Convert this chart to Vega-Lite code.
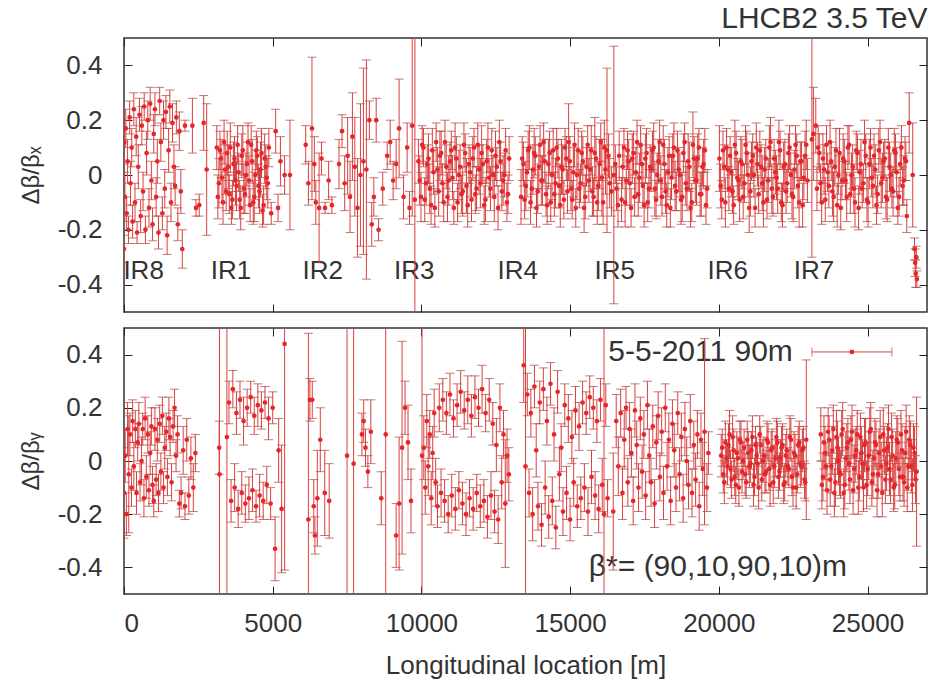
{
"$schema": "https://vega.github.io/schema/vega-lite/v6.json",
"background": "white",
"padding": {"left": 18, "top": 2, "right": 4, "bottom": 4},
"spacing": 12,
"config": {
  "view": {"stroke": "#333", "strokeWidth": 1.5},
  "font": "Liberation Sans",
  "axis": {"labelFont": "Liberation Sans", "titleFont": "Liberation Sans", "grid": false, "domain": false, "tickColor": "#222", "tickWidth": 1, "tickSize": -8, "labelFontSize": 26, "labelColor": "#333", "titleFontSize": 26, "titleFontWeight": "normal", "titleColor": "#333", "minExtent": 0}
},
"vconcat": [
{
  "width": 803, "height": 274,
  "title": {"text": "LHCB2 3.5 TeV", "anchor": "end", "fontSize": 30, "font": "Liberation Sans", "fontWeight": "normal", "color": "#333", "offset": 4},
  "data": {"values": "s,v,e\n0,-0.27,0.05\n10,0.12,0.08\n30,-0.08,0.09\n60,0.17,0.07\n90,-0.14,0.06\n120,0.05,0.08\n150,-0.20,0.05\n190,0.21,0.06\n220,-0.03,0.08\n260,0.10,0.07\n290,-0.17,0.06\n330,0.24,0.06\n370,-0.10,0.07\n410,0.14,0.07\n440,-0.21,0.04\n480,0.03,0.08\n520,0.22,0.06\n560,-0.15,0.06\n600,0.18,0.07\n640,-0.06,0.07\n680,0.25,0.05\n720,-0.20,0.05\n760,0.08,0.08\n800,0.20,0.07\n840,-0.12,0.07\n880,0.26,0.06\n920,-0.02,0.07\n960,-0.18,0.06\n1000,0.15,0.07\n1040,0.24,0.06\n1080,-0.08,0.07\n1120,0.05,0.08\n1160,-0.21,0.06\n1200,0.27,0.05\n1240,0.12,0.07\n1290,-0.14,0.06\n1330,0.20,0.07\n1370,-0.05,0.07\n1410,0.23,0.06\n1450,-0.22,0.07\n1500,0.09,0.08\n1540,0.25,0.06\n1580,-0.10,0.07\n1630,0.19,0.07\n1680,0.03,0.08\n1720,-0.04,0.07\n1760,0.21,0.06\n1810,-0.18,0.06\n1860,0.16,0.07\n1910,-0.06,0.08\n1960,-0.27,0.07\n2050,0.18,0.02\n2300,0.18,0.10\n2420,-0.12,0.03\n2530,-0.11,0.04\n2680,0.19,0.10\n2780,0.02,0.24\n3120,0.10,0.08\n3190,-0.03,0.09\n3260,0.06,0.07\n3330,-0.10,0.08\n3400,0.02,0.09\n3470,0.08,0.08\n3540,-0.07,0.07\n3610,-0.12,0.06\n3680,0.04,0.08\n3750,-0.02,0.09\n3820,0.11,0.07\n3890,-0.09,0.07\n3960,0.07,0.08\n4030,-0.05,0.09\n4100,0.00,0.08\n4170,0.12,0.07\n4240,-0.11,0.06\n4310,0.05,0.08\n4380,-0.08,0.09\n4450,0.09,0.07\n4520,-0.04,0.08\n4590,0.02,0.10\n4660,-0.13,0.06\n4730,0.06,0.09\n4800,-0.01,0.08\n4870,0.10,0.07\n4950,-0.14,0.04\n5100,0.16,0.08\n5180,-0.12,0.05\n5260,0.05,0.09\n5400,0.00,0.07\n5580,0.00,0.20\n6110,0.11,0.07\n6200,-0.03,0.08\n6320,0.17,0.26\n6400,0.04,0.10\n6450,-0.10,0.08\n6560,-0.12,0.20\n6640,0.06,0.06\n6760,-0.12,0.02\n6880,-0.02,0.07\n6990,-0.11,0.03\n7230,0.04,0.09\n7330,0.16,0.06\n7420,-0.03,0.10\n7520,0.07,0.14\n7600,-0.08,0.13\n7680,0.14,0.16\n7760,0.03,0.18\n7850,-0.12,0.18\n7950,0.00,0.26\n8050,0.05,0.34\n8150,0.02,0.40\n8250,0.20,0.07\n8330,-0.18,0.08\n8400,-0.08,0.07\n8480,0.20,0.08\n8560,-0.20,0.04\n8700,-0.05,0.06\n8850,0.07,0.05\n8950,0.12,0.08\n9050,-0.02,0.07\n9150,0.04,0.09\n9250,0.17,0.18\n9400,-0.08,0.08\n9520,0.10,0.09\n9600,-0.12,0.06\n9690,0.18,0.33\n9780,-0.09,0.80\n9900,0.05,0.08\n9985,-0.08,0.09\n10070,0.10,0.07\n10155,-0.03,0.08\n10240,0.06,0.09\n10325,-0.11,0.07\n10410,0.01,0.08\n10495,0.12,0.07\n10580,-0.06,0.09\n10665,0.08,0.08\n10750,-0.10,0.07\n10835,0.03,0.08\n10920,-0.02,0.09\n11005,0.09,0.07\n11090,-0.12,0.06\n11175,0.06,0.08\n11260,0.00,0.09\n11345,-0.07,0.07\n11430,0.11,0.08\n11515,-0.04,0.10\n11600,0.04,0.07\n11685,-0.09,0.08\n11770,0.10,0.07\n11855,-0.05,0.08\n11940,0.02,0.09\n12025,0.08,0.10\n12110,-0.11,0.07\n12195,0.05,0.08\n12280,-0.01,0.07\n12365,0.09,0.08\n12450,-0.08,0.09\n12535,0.03,0.07\n12620,0.12,0.08\n12705,-0.06,0.07\n12790,0.00,0.08\n12875,-0.10,0.07\n12950,0.06,0.08\n13350,-0.08,0.10\n13430,0.04,0.08\n13510,-0.04,0.09\n13590,0.09,0.07\n13670,-0.10,0.08\n13750,0.02,0.09\n13830,0.07,0.07\n13910,-0.06,0.08\n13990,0.11,0.07\n14070,-0.02,0.09\n14150,0.05,0.08\n14230,-0.11,0.07\n14310,0.08,0.08\n14390,0.00,0.09\n14470,-0.07,0.08\n14550,0.10,0.07\n14630,-0.04,0.08\n14710,0.03,0.10\n14790,-0.09,0.07\n14870,0.06,0.08\n14950,0.12,0.14\n15030,-0.05,0.08\n15110,0.01,0.09\n15190,-0.12,0.07\n15270,0.09,0.08\n15350,-0.03,0.07\n15430,0.05,0.09\n15510,-0.08,0.08\n15590,0.11,0.07\n15670,0.02,0.08\n15750,-0.06,0.09\n15830,0.08,0.13\n15910,-0.10,0.08\n15990,0.04,0.09\n16070,-0.01,0.14\n16150,0.10,0.10\n16240,0.09,0.30\n16330,-0.03,0.09\n16470,0.00,0.47\n16560,-0.05,0.08\n16650,0.07,0.09\n16730,-0.09,0.08\n16810,0.10,0.07\n16890,-0.02,0.09\n16970,0.05,0.08\n17050,-0.12,0.07\n17130,0.08,0.08\n17210,0.01,0.09\n17290,-0.07,0.08\n17370,0.11,0.07\n17450,-0.04,0.08\n17530,0.06,0.09\n17610,-0.10,0.07\n17690,0.03,0.08\n17770,0.09,0.07\n17850,-0.05,0.10\n17930,0.00,0.08\n18010,0.12,0.08\n18090,-0.08,0.07\n18170,0.04,0.09\n18250,-0.11,0.08\n18330,0.07,0.07\n18410,-0.01,0.08\n18490,0.10,0.09\n18570,-0.06,0.07\n18650,0.02,0.08\n18730,-0.09,0.09\n18810,0.08,0.07\n18890,-0.03,0.08\n18970,0.05,0.10\n19050,-0.12,0.07\n19130,0.11,0.12\n19210,-0.02,0.08\n19290,0.06,0.09\n19370,-0.07,0.08\n19450,0.03,0.07\n19530,0.09,0.08\n19610,-0.05,0.07\n20020,0.06,0.12\n20100,-0.09,0.07\n20180,0.03,0.08\n20260,0.10,0.07\n20340,-0.05,0.08\n20420,0.01,0.09\n20500,-0.11,0.07\n20580,0.08,0.08\n20660,-0.02,0.07\n20740,0.05,0.09\n20820,-0.08,0.08\n20900,0.11,0.07\n20980,0.00,0.08\n21060,-0.06,0.09\n21140,0.07,0.08\n21220,-0.12,0.07\n21300,0.04,0.08\n21380,0.09,0.07\n21460,-0.03,0.10\n21540,0.02,0.08\n21620,-0.09,0.07\n21700,0.10,0.08\n21780,-0.05,0.09\n21860,0.06,0.07\n21940,-0.01,0.08\n22020,0.12,0.08\n22100,-0.10,0.07\n22180,0.03,0.09\n22260,-0.06,0.08\n22340,0.08,0.07\n22420,0.00,0.08\n22500,-0.08,0.09\n22580,0.11,0.07\n22660,-0.04,0.08\n22740,0.05,0.07\n22820,-0.11,0.08\n22900,0.07,0.09\n22980,-0.02,0.08\n23130,0.13,0.43\n23180,0.15,0.17\n23260,0.18,0.10\n23300,-0.05,0.08\n23380,0.08,0.07\n23460,-0.10,0.08\n23540,0.02,0.09\n23620,0.11,0.07\n23700,-0.04,0.08\n23780,0.05,0.07\n23860,-0.08,0.09\n23940,0.09,0.08\n24020,0.00,0.07\n24100,-0.12,0.08\n24180,0.06,0.09\n24260,-0.02,0.07\n24340,0.10,0.08\n24420,-0.07,0.07\n24500,0.03,0.08\n24580,-0.10,0.09\n24660,0.08,0.07\n24740,0.01,0.08\n24820,-0.05,0.07\n24900,0.12,0.08\n24980,-0.09,0.08\n25060,0.04,0.09\n25140,-0.01,0.07\n25220,0.07,0.08\n25300,-0.11,0.07\n25380,0.09,0.08\n25460,-0.03,0.09\n25540,0.05,0.07\n25620,-0.08,0.08\n25700,0.10,0.07\n25780,0.00,0.08\n25860,-0.06,0.09\n25940,0.08,0.07\n26020,-0.12,0.06\n26100,0.04,0.08\n26180,-0.04,0.07\n26260,0.06,0.08\n26320,-0.15,0.06\n26400,0.19,0.11\n26520,0.00,0.19\n26580,-0.27,0.04\n26600,-0.32,0.05\n26620,-0.36,0.05\n26640,-0.30,0.04\n26660,-0.38,0.03\n3155,-0.08,0.08\n3225,0.09,0.07\n3295,-0.01,0.09\n3365,0.12,0.08\n3435,-0.06,0.07\n3505,0.03,0.08\n3575,0.10,0.09\n3645,-0.09,0.07\n3715,0.06,0.08\n3785,-0.04,0.09\n3855,0.01,0.07\n3925,-0.12,0.08\n3995,0.09,0.09\n4065,-0.07,0.07\n4135,0.04,0.08\n4205,-0.02,0.09\n4275,0.11,0.07\n4345,-0.10,0.08\n4415,0.00,0.09\n4485,0.07,0.07\n4555,-0.06,0.08\n4625,0.08,0.09\n4695,-0.11,0.07\n4765,0.03,0.08\n4835,-0.03,0.09\n9942,-0.02,0.09\n10027,0.11,0.07\n10112,-0.09,0.08\n10197,0.04,0.07\n10282,-0.05,0.09\n10367,0.09,0.08\n10452,-0.12,0.07\n10537,0.02,0.08\n10622,0.07,0.09\n10707,-0.03,0.07\n10792,0.12,0.08\n10877,-0.08,0.09\n10962,0.05,0.07\n11047,-0.01,0.08\n11132,0.10,0.09\n11217,-0.10,0.07\n11302,0.03,0.08\n11387,-0.06,0.09\n11472,0.08,0.07\n11557,-0.11,0.08\n11642,0.01,0.09\n11727,0.06,0.08\n11812,-0.07,0.07\n11897,0.11,0.08\n11982,-0.03,0.09\n12067,0.04,0.07\n12152,-0.09,0.08\n12237,0.10,0.09\n12322,-0.05,0.08\n12407,0.00,0.07\n12492,0.07,0.09\n12577,-0.12,0.08\n12662,0.05,0.07\n12747,-0.02,0.09\n12832,0.09,0.08\n12910,-0.07,0.07\n13390,0.06,0.08\n13470,-0.09,0.07\n13550,0.01,0.09\n13630,0.10,0.08\n13710,-0.05,0.07\n13790,0.08,0.09\n13870,-0.12,0.07\n13950,0.03,0.08\n14030,-0.02,0.09\n14110,0.12,0.07\n14190,-0.07,0.08\n14270,0.04,0.09\n14350,-0.10,0.07\n14430,0.09,0.08\n14510,-0.03,0.09\n14590,0.06,0.07\n14670,-0.11,0.08\n14750,0.02,0.09\n14830,0.10,0.07\n14910,-0.06,0.08\n14990,0.05,0.09\n15070,-0.09,0.07\n15150,0.11,0.08\n15230,0.00,0.09\n15310,-0.05,0.07\n15390,0.08,0.08\n15470,-0.12,0.09\n15550,0.03,0.07\n15630,-0.02,0.08\n15710,0.09,0.09\n15790,-0.08,0.07\n15870,0.06,0.08\n15950,-0.04,0.09\n16030,0.12,0.07\n16110,-0.10,0.08\n16190,0.02,0.09\n16290,0.07,0.08\n16390,-0.06,0.09\n16520,0.04,0.07\n16610,-0.11,0.08\n16770,0.03,0.08\n16850,-0.10,0.09\n16930,0.09,0.07\n17010,-0.03,0.08\n17090,0.06,0.09\n17170,-0.08,0.07\n17250,0.12,0.08\n17330,-0.01,0.09\n17410,0.04,0.07\n17490,-0.11,0.08\n17570,0.08,0.09\n17650,-0.05,0.07\n17730,0.02,0.08\n17810,0.10,0.09\n17890,-0.09,0.07\n17970,0.05,0.08\n18050,-0.02,0.09\n18130,0.11,0.07\n18210,-0.06,0.08\n18290,0.01,0.09\n18370,-0.12,0.07\n18450,0.07,0.08\n18530,-0.04,0.09\n18610,0.09,0.07\n18690,0.00,0.08\n18770,-0.08,0.09\n18850,0.12,0.07\n18930,-0.05,0.08\n19010,0.03,0.09\n19090,-0.10,0.07\n19170,0.06,0.08\n19250,-0.02,0.09\n19330,0.10,0.07\n19410,-0.07,0.08\n19490,0.04,0.09\n19570,-0.11,0.07\n20060,-0.04,0.08\n20140,0.09,0.07\n20220,-0.10,0.09\n20300,0.02,0.08\n20380,0.07,0.07\n20460,-0.06,0.08\n20540,0.11,0.09\n20620,-0.01,0.07\n20700,-0.09,0.08\n20780,0.04,0.09\n20860,-0.03,0.07\n20940,0.08,0.08\n21020,-0.12,0.09\n21100,0.05,0.07\n21180,0.00,0.08\n21260,0.10,0.09\n21340,-0.07,0.07\n21420,0.03,0.08\n21500,-0.10,0.09\n21580,0.06,0.07\n21660,-0.02,0.08\n21740,0.12,0.09\n21820,-0.08,0.07\n21900,0.01,0.08\n21980,-0.05,0.09\n22060,0.09,0.07\n22140,-0.11,0.08\n22220,0.04,0.09\n22300,-0.03,0.07\n22380,0.10,0.08\n22460,-0.07,0.09\n22540,0.02,0.07\n22620,0.07,0.08\n22700,-0.10,0.09\n22780,0.05,0.07\n22860,-0.01,0.08\n22940,0.11,0.09\n23340,0.10,0.08\n23420,-0.03,0.07\n23500,0.06,0.09\n23580,-0.09,0.08\n23660,0.01,0.07\n23740,0.12,0.08\n23820,-0.06,0.09\n23900,0.03,0.07\n23980,-0.11,0.08\n24060,0.08,0.09\n24140,-0.02,0.07\n24220,0.05,0.08\n24300,-0.08,0.09\n24380,0.11,0.07\n24460,0.00,0.08\n24540,-0.05,0.09\n24620,0.09,0.07\n24700,-0.12,0.08\n24780,0.04,0.09\n24860,-0.03,0.07\n24940,0.07,0.08\n25020,-0.10,0.09\n25100,0.10,0.07\n25180,-0.04,0.08\n25260,0.02,0.09\n25340,-0.07,0.07\n25420,0.12,0.08\n25500,-0.01,0.09\n25580,0.06,0.07\n25660,-0.09,0.08\n25740,0.03,0.09\n25820,-0.05,0.07\n25900,0.09,0.08\n25980,0.01,0.09\n26060,-0.08,0.07\n26140,0.10,0.08\n26220,-0.02,0.09\n26290,0.05,0.07", "format": {"type": "csv", "parse": {"s": "number", "v": "number", "e": "number"}}},
  "layer": [
    {
      "data": {"values": [{"label": "IR8", "s": 660}, {"label": "IR1", "s": 3600}, {"label": "IR2", "s": 6680}, {"label": "IR3", "s": 9760}, {"label": "IR4", "s": 13240}, {"label": "IR5", "s": 16500}, {"label": "IR6", "s": 20300}, {"label": "IR7", "s": 23200}]},
      "mark": {"type": "text", "fontSize": 26, "color": "#333", "align": "center", "baseline": "middle"},
      "encoding": {
        "x": {"field": "s", "type": "quantitative", "scale": {"domain": [0, 27000], "nice": false, "zero": false}, "axis": null},
        "y": {"datum": -0.35, "scale": {"domain": [-0.5, 0.5], "nice": false, "zero": false}, "axis": null},
        "text": {"field": "label"}
      }
    },
    {
      "mark": {"type": "errorbar", "clip": true, "ticks": {"color": "#a8403c"}, "rule": {"color": "#d8403f"}, "size": 9, "thickness": 1},
      "encoding": {
        "x": {"field": "s", "type": "quantitative", "scale": {"domain": [0, 27000], "nice": false, "zero": false}, "axis": {"orient": "bottom", "values": [0, 5000, 10000, 15000, 20000, 25000], "labels": false, "title": null}},
        "y": {"field": "v", "type": "quantitative", "scale": {"domain": [-0.5, 0.5], "nice": false, "zero": false}, "axis": {"orient": "left", "values": [-0.4, -0.2, 0, 0.2, 0.4], "labelExpr": "datum.value == 0 ? '0' : (datum.value < 0 ? '-' : '') + format(abs(datum.value), '.1f')", "labelPadding": 30, "title": "Δβ/βₓ", "titleFontSize": 24, "titlePadding": 14}},
        "yError": {"field": "e"}
      }
    },
    {
      "mark": {"type": "circle", "size": 22, "color": "#e5262a", "opacity": 1, "clip": true},
      "encoding": {
        "x": {"field": "s", "type": "quantitative", "scale": {"domain": [0, 27000], "nice": false, "zero": false}, "axis": {"orient": "top", "values": [0, 5000, 10000, 15000, 20000, 25000], "labels": false, "title": null}},
        "y": {"field": "v", "type": "quantitative", "scale": {"domain": [-0.5, 0.5], "nice": false, "zero": false}, "axis": {"orient": "right", "values": [-0.4, -0.2, 0, 0.2, 0.4], "labels": false, "title": null}}
      }
    }
  ],
  "resolve": {"axis": {"x": "independent", "y": "independent"}}
},
{
  "width": 803, "height": 266,
  "data": {"values": "s,v,e\n0,-0.12,0.17\n40,0.02,0.10\n80,-0.20,0.08\n120,0.12,0.10\n160,-0.05,0.22\n200,0.10,0.08\n250,-0.10,0.07\n290,0.15,0.08\n330,-0.02,0.09\n380,0.12,0.07\n420,-0.12,0.08\n460,0.07,0.07\n500,0.14,0.08\n540,-0.08,0.07\n590,0.00,0.09\n630,0.12,0.06\n670,-0.14,0.07\n710,0.16,0.08\n750,-0.06,0.08\n800,0.10,0.07\n840,-0.11,0.06\n880,0.03,0.08\n920,0.13,0.07\n960,-0.09,0.07\n1000,-0.15,0.06\n1040,0.12,0.08\n1080,-0.07,0.06\n1120,0.08,0.08\n1160,-0.12,0.07\n1200,0.14,0.07\n1240,-0.04,0.07\n1290,0.17,0.07\n1330,-0.10,0.06\n1370,0.05,0.08\n1420,0.11,0.07\n1460,-0.06,0.07\n1510,0.16,0.08\n1550,0.09,0.07\n1600,-0.08,0.07\n1650,0.13,0.06\n1700,0.20,0.07\n1750,0.02,0.06\n1800,0.10,0.07\n1860,-0.16,0.05\n1920,-0.12,0.06\n1990,0.04,0.09\n2050,-0.17,0.05\n2110,0.08,0.08\n2180,-0.13,0.07\n2250,0.01,0.08\n2330,-0.10,0.09\n2400,0.03,0.07\n3200,0.05,0.10\n3210,-0.05,0.55\n3460,0.09,0.60\n3530,0.22,0.08\n3600,-0.15,0.08\n3660,0.27,0.07\n3720,-0.10,0.09\n3780,0.18,0.08\n3840,-0.18,0.07\n3900,0.23,0.07\n3960,-0.12,0.08\n4020,0.15,0.09\n4080,-0.16,0.07\n4140,0.20,0.07\n4200,-0.14,0.08\n4260,0.24,0.06\n4320,-0.11,0.08\n4380,0.17,0.07\n4440,-0.17,0.06\n4500,0.21,0.08\n4560,-0.13,0.08\n4620,0.19,0.07\n4680,-0.15,0.07\n4740,0.22,0.06\n4800,-0.09,0.07\n4860,0.16,0.08\n4930,-0.16,0.06\n5000,0.20,0.06\n5080,-0.33,0.12\n5200,0.04,0.12\n5300,-0.18,0.24\n5400,0.44,0.85\n6200,-0.22,0.70\n6250,0.23,0.08\n6330,0.23,0.07\n6380,-0.17,0.10\n6420,-0.28,0.07\n6500,-0.14,0.18\n6600,0.08,0.12\n6750,-0.12,0.16\n6900,-0.15,0.14\n7500,0.02,0.70\n7720,-0.01,0.70\n8000,0.10,0.08\n8060,0.15,0.08\n8120,0.05,0.07\n8200,-0.04,0.06\n8300,0.11,0.12\n8650,-0.14,0.10\n8800,0.10,0.65\n9150,-0.28,0.12\n9250,-0.16,0.25\n9350,0.05,0.40\n9450,0.20,0.10\n9550,0.07,0.14\n9650,-0.15,0.12\n10020,0.02,0.70\n10080,0.05,0.12\n10130,-0.10,0.10\n10180,0.15,0.10\n10230,-0.02,0.11\n10280,0.10,0.09\n10330,-0.14,0.10\n10380,0.03,0.10\n10430,0.18,0.09\n10480,-0.08,0.09\n10540,-0.17,0.08\n10600,0.20,0.09\n10660,-0.12,0.09\n10720,0.23,0.08\n10780,-0.15,0.08\n10840,0.18,0.08\n10900,-0.20,0.07\n10960,0.25,0.08\n11020,-0.13,0.08\n11080,0.16,0.07\n11140,-0.18,0.08\n11200,0.21,0.08\n11260,-0.11,0.07\n11320,0.26,0.08\n11380,-0.16,0.08\n11440,0.19,0.07\n11500,-0.20,0.08\n11560,0.23,0.09\n11620,-0.14,0.07\n11680,0.17,0.08\n11740,-0.18,0.08\n11800,0.24,0.08\n11860,-0.12,0.07\n11920,0.20,0.07\n11980,-0.17,0.08\n12040,0.27,0.09\n12100,-0.15,0.08\n12160,0.18,0.07\n12220,-0.21,0.08\n12280,0.23,0.08\n12340,-0.13,0.09\n12400,0.14,0.08\n12460,-0.19,0.08\n12520,0.06,0.10\n12580,-0.22,0.09\n12640,0.20,0.09\n12700,-0.08,0.10\n12760,0.10,0.09\n12820,-0.16,0.24\n12880,0.02,0.10\n12940,-0.05,0.10\n13440,0.36,0.14\n13500,-0.02,0.60\n13560,0.25,0.08\n13620,-0.12,0.09\n13680,0.18,0.09\n13740,-0.20,0.10\n13800,0.28,0.08\n13860,0.04,0.10\n13920,-0.17,0.09\n13980,0.22,0.08\n14040,-0.24,0.08\n14100,0.27,0.08\n14160,-0.10,0.10\n14220,0.15,0.09\n14280,-0.21,0.08\n14340,0.29,0.08\n14400,-0.15,0.09\n14460,0.10,0.10\n14520,-0.25,0.08\n14580,0.26,0.08\n14640,-0.05,0.10\n14700,0.05,0.09\n14760,-0.19,0.09\n14820,0.21,0.08\n14880,-0.12,0.10\n14940,0.16,0.09\n15000,-0.22,0.08\n15060,0.09,0.10\n15120,-0.08,0.09\n15180,0.19,0.09\n15240,-0.17,0.08\n15300,0.13,0.09\n15360,-0.14,0.08\n15420,0.22,0.08\n15480,-0.10,0.09\n15540,0.18,0.08\n15600,-0.19,0.09\n15660,0.24,0.08\n15720,-0.06,0.10\n15780,0.20,0.08\n15840,-0.13,0.09\n15900,0.15,0.08\n15960,-0.18,0.09\n16020,0.23,0.08\n16080,-0.09,0.10\n16140,-0.20,0.70\n16200,0.21,0.08\n16260,-0.14,0.07\n16450,-0.19,0.22\n16550,0.15,0.10\n16620,-0.02,0.11\n16700,0.18,0.09\n16760,-0.12,0.10\n16820,0.08,0.11\n16880,0.20,0.08\n16940,-0.08,0.09\n17000,0.12,0.10\n17060,0.03,0.09\n17120,-0.15,0.09\n17180,0.19,0.10\n17240,0.06,0.09\n17300,-0.10,0.09\n17360,0.16,0.08\n17420,-0.04,0.10\n17480,0.10,0.09\n17540,-0.13,0.09\n17600,0.21,0.09\n17660,0.02,0.10\n17720,-0.08,0.09\n17780,0.13,0.08\n17840,-0.16,0.09\n17900,0.07,0.10\n17960,0.17,0.09\n18020,-0.06,0.09\n18080,0.11,0.09\n18140,-0.12,0.10\n18200,0.20,0.09\n18260,-0.02,0.09\n18320,0.08,0.10\n18380,-0.15,0.09\n18440,0.14,0.09\n18500,0.04,0.10\n18560,-0.10,0.09\n18620,0.18,0.08\n18680,-0.05,0.10\n18740,0.09,0.09\n18800,-0.14,0.09\n18860,0.12,0.10\n18920,0.00,0.09\n18980,-0.09,0.09\n19040,0.15,0.10\n19100,-0.12,0.09\n19160,0.06,0.09\n19220,-0.07,0.10\n19280,0.10,0.09\n19340,-0.17,0.09\n19400,0.08,0.10\n19460,-0.03,0.10\n19520,0.11,0.35\n19600,-0.10,0.09\n19650,0.03,0.08\n20080,0.02,0.08\n20150,-0.05,0.07\n20220,0.07,0.08\n20290,-0.02,0.07\n20360,0.10,0.09\n20430,-0.07,0.07\n20500,0.04,0.08\n20570,-0.09,0.07\n20640,0.01,0.08\n20710,0.08,0.07\n20780,-0.04,0.08\n20850,0.05,0.07\n20920,-0.08,0.06\n20990,0.03,0.08\n21060,-0.01,0.07\n21130,0.09,0.08\n21200,-0.06,0.07\n21270,0.02,0.07\n21340,-0.10,0.08\n21410,0.06,0.07\n21480,0.00,0.08\n21550,-0.05,0.07\n21620,0.08,0.07\n21690,-0.03,0.08\n21760,0.04,0.07\n21830,-0.08,0.08\n21900,0.01,0.07\n21970,0.07,0.08\n22040,-0.04,0.07\n22110,0.05,0.08\n22180,-0.09,0.07\n22250,0.02,0.08\n22320,-0.02,0.07\n22390,0.09,0.08\n22460,-0.06,0.07\n22530,0.03,0.08\n22600,-0.10,0.08\n22670,0.06,0.07\n22740,-0.01,0.09\n22810,0.04,0.08\n22880,-0.07,0.07\n22940,0.08,0.30\n23430,0.10,0.10\n23500,-0.06,0.09\n23570,0.03,0.10\n23640,-0.11,0.09\n23710,0.08,0.09\n23780,-0.02,0.10\n23850,0.12,0.09\n23920,-0.08,0.09\n23990,0.05,0.10\n24060,-0.04,0.09\n24130,0.10,0.09\n24200,-0.12,0.09\n24270,0.01,0.10\n24340,0.07,0.09\n24410,-0.07,0.09\n24480,0.11,0.10\n24550,-0.03,0.09\n24620,0.04,0.09\n24690,-0.10,0.10\n24760,0.09,0.09\n24830,-0.01,0.09\n24900,0.06,0.10\n24970,-0.09,0.09\n25040,0.02,0.09\n25110,0.12,0.10\n25180,-0.05,0.09\n25250,0.07,0.09\n25320,-0.11,0.10\n25390,0.03,0.09\n25460,-0.02,0.09\n25530,0.10,0.10\n25600,-0.07,0.09\n25670,0.05,0.09\n25740,-0.03,0.10\n25810,0.09,0.09\n25880,-0.10,0.09\n25950,0.01,0.10\n26020,0.07,0.09\n26090,-0.06,0.09\n26160,0.04,0.10\n26230,-0.08,0.09\n26300,0.11,0.10\n26370,-0.02,0.09\n26440,0.06,0.09\n26510,-0.09,0.10\n26580,0.03,0.10\n26650,-0.04,0.28\n20115,0.05,0.07\n20185,-0.08,0.08\n20255,0.01,0.07\n20325,0.06,0.08\n20395,-0.03,0.07\n20465,0.09,0.08\n20535,-0.06,0.07\n20605,0.03,0.08\n20675,-0.10,0.07\n20745,0.07,0.08\n20815,0.00,0.07\n20885,-0.05,0.08\n20955,0.08,0.07\n21025,-0.02,0.08\n21095,0.04,0.07\n21165,-0.09,0.08\n21235,0.06,0.07\n21305,-0.01,0.08\n21375,0.10,0.07\n21445,-0.07,0.08\n21515,0.02,0.07\n21585,-0.04,0.08\n21655,0.07,0.07\n21725,-0.09,0.08\n21795,0.05,0.07\n21865,-0.02,0.08\n21935,0.09,0.07\n22005,-0.06,0.08\n22075,0.01,0.07\n22145,0.06,0.08\n22215,-0.08,0.07\n22285,0.04,0.08\n22355,-0.03,0.07\n22425,0.08,0.08\n22495,-0.10,0.07\n22565,0.02,0.08\n22635,-0.05,0.07\n22705,0.07,0.08\n22775,-0.02,0.07\n22845,0.05,0.08\n22905,-0.08,0.07\n23465,-0.09,0.09\n23535,0.07,0.10\n23605,-0.02,0.09\n23675,0.11,0.09\n23745,-0.07,0.10\n23815,0.04,0.09\n23885,-0.12,0.09\n23955,0.09,0.10\n24025,0.00,0.09\n24095,-0.05,0.09\n24165,0.12,0.10\n24235,-0.09,0.09\n24305,0.05,0.09\n24375,-0.01,0.10\n24445,0.08,0.09\n24515,-0.11,0.09\n24585,0.02,0.10\n24655,0.10,0.09\n24725,-0.06,0.09\n24795,0.03,0.10\n24865,-0.10,0.09\n24935,0.07,0.09\n25005,-0.03,0.10\n25075,0.11,0.09\n25145,-0.08,0.09\n25215,0.01,0.10\n25285,0.06,0.09\n25355,-0.05,0.09\n25425,0.09,0.10\n25495,-0.12,0.09\n25565,0.04,0.09\n25635,-0.01,0.10\n25705,0.12,0.09\n25775,-0.07,0.09\n25845,0.02,0.10\n25915,-0.09,0.09\n25985,0.08,0.09\n26055,-0.03,0.10\n26125,0.10,0.09\n26195,-0.06,0.09\n26265,0.03,0.10\n26335,-0.10,0.09\n26405,0.08,0.09\n26475,-0.02,0.10\n26545,0.05,0.09\n26615,-0.07,0.09", "format": {"type": "csv", "parse": {"s": "number", "v": "number", "e": "number"}}},
  "layer": [
    {
      "data": {"values": [{"note": "legend"}]},
      "mark": {"type": "text", "fontSize": 30, "color": "#333", "align": "right", "baseline": "middle"},
      "encoding": {
        "x": {"datum": 22490, "scale": {"domain": [0, 27000], "nice": false, "zero": false}, "axis": null},
        "y": {"datum": 0.41, "scale": {"domain": [-0.5, 0.5], "nice": false, "zero": false}, "axis": null},
        "text": {"value": "5-5-2011 90m"}
      }
    },
    {
      "data": {"values": [{"note": "optics"}]},
      "mark": {"type": "text", "fontSize": 30, "color": "#333", "align": "left", "baseline": "middle"},
      "encoding": {
        "x": {"datum": 15630, "scale": {"domain": [0, 27000], "nice": false, "zero": false}, "axis": null},
        "y": {"datum": -0.40, "scale": {"domain": [-0.5, 0.5], "nice": false, "zero": false}, "axis": null},
        "text": {"value": "β*= (90,10,90,10)m"}
      }
    },
    {
      "mark": {"type": "errorbar", "clip": true, "ticks": {"color": "#a8403c"}, "rule": {"color": "#d8403f"}, "size": 9, "thickness": 1},
      "encoding": {
        "x": {"field": "s", "type": "quantitative", "scale": {"domain": [0, 27000], "nice": false, "zero": false}, "axis": {"orient": "bottom", "values": [0, 5000, 10000, 15000, 20000, 25000], "format": "d", "labelPadding": 24, "title": "Longitudinal location [m]", "titlePadding": 16}},
        "y": {"field": "v", "type": "quantitative", "scale": {"domain": [-0.5, 0.5], "nice": false, "zero": false}, "axis": {"orient": "left", "values": [-0.4, -0.2, 0, 0.2, 0.4], "labelExpr": "datum.value == 0 ? '0' : (datum.value < 0 ? '-' : '') + format(abs(datum.value), '.1f')", "labelPadding": 30, "title": "Δβ/βᵧ", "titleFontSize": 24, "titlePadding": 14}},
        "yError": {"field": "e"}
      }
    },
    {
      "mark": {"type": "circle", "size": 22, "color": "#e5262a", "opacity": 1, "clip": true},
      "encoding": {
        "x": {"field": "s", "type": "quantitative", "scale": {"domain": [0, 27000], "nice": false, "zero": false}, "axis": {"orient": "top", "values": [0, 5000, 10000, 15000, 20000, 25000], "labels": false, "title": null}},
        "y": {"field": "v", "type": "quantitative", "scale": {"domain": [-0.5, 0.5], "nice": false, "zero": false}, "axis": {"orient": "right", "values": [-0.4, -0.2, 0, 0.2, 0.4], "labels": false, "title": null}}
      }
    },
    {
      "data": {"values": [{"s": 24475, "xe": 1345, "v": 0.41}]},
      "mark": {"type": "errorbar", "ticks": {"color": "#a8403c"}, "rule": {"color": "#d8403f"}, "size": 9, "thickness": 1},
      "encoding": {
        "x": {"field": "s", "type": "quantitative", "scale": {"domain": [0, 27000], "nice": false, "zero": false}, "axis": null},
        "xError": {"field": "xe"},
        "y": {"field": "v", "type": "quantitative", "scale": {"domain": [-0.5, 0.5], "nice": false, "zero": false}, "axis": null}
      }
    },
    {
      "data": {"values": [{"s": 24475, "v": 0.41}]},
      "mark": {"type": "circle", "size": 22, "color": "#e5262a", "opacity": 1},
      "encoding": {
        "x": {"field": "s", "type": "quantitative", "scale": {"domain": [0, 27000], "nice": false, "zero": false}, "axis": null},
        "y": {"field": "v", "type": "quantitative", "scale": {"domain": [-0.5, 0.5], "nice": false, "zero": false}, "axis": null}
      }
    }
  ],
  "resolve": {"axis": {"x": "independent", "y": "independent"}}
}
]
}
